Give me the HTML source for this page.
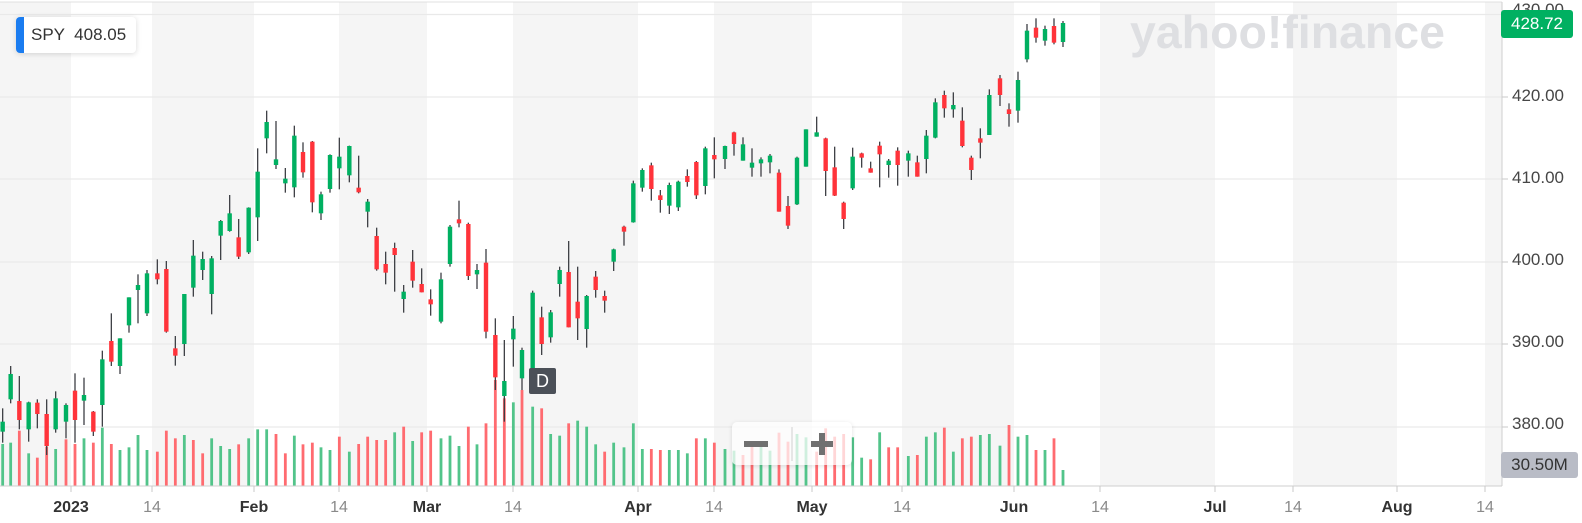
<!DOCTYPE html>
<html><head><meta charset="utf-8"><style>
html,body{margin:0;padding:0;background:#fff;}
body{width:1582px;height:523px;position:relative;overflow:hidden;font-family:"Liberation Sans",sans-serif;}
svg{position:absolute;left:0;top:0;}
.yl{position:absolute;left:1512px;font-size:17px;color:#464646;}
.xl{position:absolute;top:499px;font-size:16px;transform:translateX(-50%);}
.m{color:#333;font-weight:bold;}
.d{color:#8a8a8a;}
</style></head><body>
<svg id="s" width="1582" height="523" xmlns="http://www.w3.org/2000/svg">
<g id="bands" fill="#f5f5f5"></g>
<g id="grid" stroke="#e9e9e9" stroke-width="1.2"></g>
<text x="1130" y="48" font-family="Liberation Sans, sans-serif" font-weight="bold" font-size="46" fill="#dedfe2" textLength="315" lengthAdjust="spacingAndGlyphs">yahoo!finance</text>
<g id="vol"></g>
<g id="can"></g>
<line x1="0" y1="2" x2="1502" y2="2" stroke="#e0e0e0"/>
<line x1="1502" y1="2" x2="1502" y2="486" stroke="#cfcfcf"/>
<line x1="0" y1="486" x2="1502" y2="486" stroke="#cfcfcf"/>
<g id="ticks" stroke="#c8c8c8"></g>
</svg>

<div style="position:absolute;left:16px;top:17px;width:120px;height:36px;background:#fff;border-radius:4px;box-shadow:0 1px 6px rgba(0,0,0,0.15);overflow:hidden;">
<div style="position:absolute;left:0;top:0;width:8px;height:36px;background:#1a7cf0;"></div>
<div style="position:absolute;left:15px;top:8px;font-size:17px;color:#333;white-space:pre;">SPY  408.05</div></div>

<div style="position:absolute;left:529px;top:368px;width:27px;height:26px;background:#4b5058;border-radius:2px;color:#fff;font-size:18px;text-align:center;line-height:26px;">D</div>

<div style="position:absolute;left:732px;top:422px;width:120px;height:43px;background:rgba(255,255,255,0.72);border-radius:5px;box-shadow:0 1px 5px rgba(0,0,0,0.12);">
<div style="position:absolute;left:12px;top:19px;width:24px;height:6px;background:#707070;"></div>
<div style="position:absolute;left:59px;top:5px;width:2px;height:34px;background:#e6e6e6;"></div>
<div style="position:absolute;left:79px;top:19px;width:22px;height:6px;background:#707070;"></div>
<div style="position:absolute;left:87px;top:11px;width:6px;height:22px;background:#707070;"></div>
</div>

<div class="yl" style="top:0px;color:#464646;">430.00</div>
<div class="yl" style="top:86px">420.00</div>
<div class="yl" style="top:168px">410.00</div>
<div class="yl" style="top:250px">400.00</div>
<div class="yl" style="top:332px">390.00</div>
<div class="yl" style="top:414px">380.00</div>
<div style="position:absolute;left:1501px;top:10px;width:72px;height:28px;background:#00b061;border-radius:3px;color:#fff;font-size:17px;line-height:28px;text-align:center;">428.72</div>
<div style="position:absolute;left:1501px;top:452px;width:77px;height:26px;background:#b9bcc6;border-radius:3px;color:#333;font-size:17px;line-height:26px;text-align:center;">30.50M</div>

<div class="xl m" style="left:71px">2023</div>
<div class="xl d" style="left:152px">14</div>
<div class="xl m" style="left:254px">Feb</div>
<div class="xl d" style="left:339px">14</div>
<div class="xl m" style="left:427px">Mar</div>
<div class="xl d" style="left:513px">14</div>
<div class="xl m" style="left:638px">Apr</div>
<div class="xl d" style="left:714px">14</div>
<div class="xl m" style="left:812px">May</div>
<div class="xl d" style="left:902px">14</div>
<div class="xl m" style="left:1014px">Jun</div>
<div class="xl d" style="left:1100px">14</div>
<div class="xl m" style="left:1215px">Jul</div>
<div class="xl d" style="left:1293px">14</div>
<div class="xl m" style="left:1397px">Aug</div>
<div class="xl d" style="left:1485px">14</div>

<script>
var NS="http://www.w3.org/2000/svg";
function el(p,t,a){var e=document.createElementNS(NS,t);for(var k in a)e.setAttribute(k,a[k]);document.getElementById(p).appendChild(e);}
var b=[0,71,152,254,339,427,513,638,714,812,902,1014,1100,1215,1293,1397,1485,1502];
for(var i=0;i<b.length-1;i+=2)el("bands","rect",{x:b[i],y:2,width:b[i+1]-b[i],height:484});
for(var i=1;i<b.length-1;i++)el("ticks","line",{x1:b[i],y1:486,x2:b[i],y2:492});
[14.5,97,179,262,344,427].forEach(function(y){el("grid","line",{x1:0,y1:y,x2:1502,y2:y});});
[97,179,262,344,427].forEach(function(y){el("ticks","line",{x1:1502,y1:y,x2:1508,y2:y});});
var A=[[8,955,1058,995,1025,1],[32,828,940,852,928,1],[58,858,1018,933,990,0],[86,935,1055,937,1018,1],[112,928,1015,938,972,0],[140,928,1095,972,1068,0],[167,904,1028,925,1018,1],[198,940,1045,945,995,1],[225,850,1058,902,990,0],[252,863,1005,915,932,1],[280,963,1038,965,1025,0],[307,782,1010,808,945,1],[334,670,828,753,815,0],[360,745,852,745,828,1],[387,622,728,622,706,1],[414,553,700,585,600,1],[441,540,678,550,670,1],[472,508,583,550,568,0],[499,513,728,537,725,0],[526,738,827,775,797,0],[553,612,798,612,762,1],[580,450,620,497,593,1],[608,485,570,507,540,1],[635,498,673,505,612,1],[662,390,510,393,437,1],[689,315,425,370,423,1],[716,387,507,442,500,0],[746,352,492,353,487,1],[773,175,453,245,382,1],[800,62,190,96,145,1],[828,93,237,208,225,1],[856,234,308,266,280,1],[883,107,322,137,292,1],[909,157,263,186,247,0],[937,153,367,155,337,0],[963,305,390,313,370,1],[990,193,308,195,297,1],[1018,143,298,200,235,1],[1048,167,277,168,256,1],[1076,197,310,293,307,0]];
var AV=[[1062,1],[1058,1],[1022,0],[1090,1],[1103,0],[1070,0],[1077,1],[1048,0],[1062,0],[1045,1],[1058,0],[1013,1],[1062,0],[1080,1],[1072,1],[1035,1],[1080,1],[1085,0],[1022,0],[1045,0],[1035,1],[1050,0],[1090,0],[1045,1],[1068,1],[1077,1],[1063,0],[1045,1],[1018,1],[1018,1],[1032,0],[1090,0],[1037,1],[1063,0],[1058,0],[1072,1],[1080,1],[1040,0],[1085,1],[1062,0]];
var B=[[53,327,412,335,365,1],[80,413,542,438,538,0],[107,485,583,522,548,0],[134,458,605,474,495,0],[161,585,668,605,627,1],[188,480,593,515,572,0],[215,535,607,582,607,0],[242,598,677,628,643,0],[273,548,700,568,695,1],[300,405,530,410,522,1],[327,332,412,388,400,0],[355,398,570,402,558,0],[381,522,597,540,553,1],[408,477,745,518,725,0],[436,685,900,735,862,0],[463,750,995,873,918,1],[490,678,830,716,748,1],[516,773,900,780,865,1],[548,602,850,608,840,1],[575,650,795,682,762,0],[602,660,758,667,742,1],[629,530,620,540,582,1],[656,453,712,546,712,0],[683,530,750,635,685,0],[710,615,773,618,717,1],[737,543,623,560,600,0],[764,602,668,618,632,0],[791,476,543,478,515,1],[822,407,467,410,425,0],[850,272,398,280,397,1],[877,235,305,240,293,1],[904,218,332,226,297,0],[931,300,368,316,330,0],[958,278,372,285,347,1],[985,272,363,275,352,1],[1012,238,290,258,276,0],[1039,213,327,216,316,0],[1066,170,313,175,288,1]];
var BV=[[1040,0],[1050,0],[1050,0],[1027,1],[1010,0],[1053,1],[1027,0],[1022,0],[1045,1],[1037,1],[1068,1],[1010,0],[1063,1],[1000,0],[870,0],[925,0],[937,1],[900,0],[950,1],[955,0],[1032,1],[1037,1],[1000,0],[992,1],[1010,1],[1063,1],[1085,0],[1058,1],[1072,1],[1000,1],[1077,1],[1077,0],[1080,0],[1080,1],[1080,1],[1090,1],[1045,0],[1045,1]];
var C=[[43,412,535,465,478,0],[75,437,507,438,477,1],[102,395,467,397,432,0],[129,412,482,433,482,1],[156,445,530,488,503,1],[183,472,530,478,490,1],[210,462,520,467,487,1],[237,508,635,518,635,0],[264,588,687,618,677,0],[291,470,615,473,613,1],[318,388,500,388,500,1],[350,350,410,397,410,1],[377,413,588,415,513,0],[404,440,588,502,587,0],[431,605,687,608,657,0],[458,443,570,470,565,1],[485,458,503,460,473,0],[512,485,518,505,518,0],[539,425,562,437,463,0],[566,477,533,482,495,1],[593,442,557,452,495,0],[625,452,530,460,482,1],[652,467,530,487,530,0],[679,390,520,407,477,1],[706,295,415,307,413,1],[733,272,353,285,325,0],[760,277,353,315,328,1],[787,322,442,362,438,0],[814,467,540,473,510,0],[841,385,475,415,428,0],[868,268,405,285,405,1],[900,225,318,235,285,0],[927,310,380,328,342,0],[954,215,368,240,332,1],[981,72,187,92,178,1],[1008,55,128,83,113,0],[1035,77,137,87,122,1],[1062,55,133,78,128,0],[1089,63,141,69,126,1]];
var CV=[[1328,0],[1347,1],[1352,1],[1365,0],[1330,0],[1338,1],[1352,1],[1298,0],[1325,0],[1302,1],[1312,1],[1355,0],[1285,0],[1310,0],[1302,0],[1312,1],[1373,1],[1378,0],[1297,1],[1342,0],[1342,0],[1368,1],[1365,0],[1310,1],[1297,1],[1283,0],[1355,1],[1315,0],[1310,0],[1305,1],[1302,1],[1337,1],[1275,0],[1310,1],[1305,1],[1350,0],[1350,1],[1315,0],[1410,1]];
function draw(S,V,ox,oy){
 for(var i=0;i<S.length;i++){var c=S[i],x=ox+c[0]/3;
  if(V[i]){var vt=oy+V[i][0]/3;el("vol","rect",{x:x-1.4,y:vt,width:2.8,height:486-vt,fill:V[i][1]?"#52c48a":"#ff6b70"});}
  el("can","line",{x1:x,y1:oy+c[1]/3,x2:x,y2:oy+c[2]/3,stroke:"#3d3f44","stroke-width":1.3});
  var bt=oy+c[3]/3,bb=oy+c[4]/3;if(bb-bt<3){bb=bt+3;}
  el("can","rect",{x:x-2.2,y:bt,width:4.4,height:bb-bt,fill:c[5]?"#00b061":"#ff333a"});}
}
draw(A,AV,0,90);draw(B,BV,350,90);draw(C,CV,700,0);
</script>
</body></html>
